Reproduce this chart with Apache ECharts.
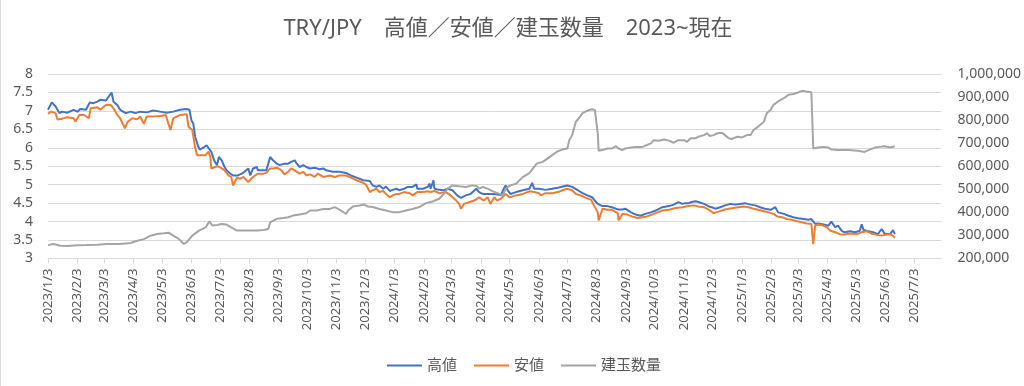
<!DOCTYPE html>
<html><head><meta charset="utf-8">
<script src="https://cdn.jsdelivr.net/npm/echarts@6/dist/echarts.min.js"></script>
<style>html,body{margin:0;padding:0;background:#fff}#c{width:1024px;height:386px}</style>
</head><body><div id="c"></div>
<script>
const titleText = 'TRY/JPY\u3000高値／安値／建玉数量\u30002023~現在';
const seriesNames = ['高値', '安値', '建玉数量'];
const axisStart = '2023/1/3';
const axisEnd = '2025/8/1';
const leftTicks = {min: 3, max: 8, interval: 0.5};
const rightTicks = {min: 200000, max: 1000000, interval: 100000};

const highDates = ['2023/1/3','2023/1/7','2023/1/11','2023/1/15','2023/1/18','2023/1/23','2023/1/30','2023/2/3','2023/2/6','2023/2/12','2023/2/16','2023/2/20','2023/2/24','2023/2/27','2023/3/5','2023/3/8','2023/3/11','2023/3/13','2023/3/17','2023/3/20','2023/3/26','2023/3/31','2023/4/5','2023/4/10','2023/4/17','2023/4/24','2023/5/1','2023/5/8','2023/5/15','2023/5/22','2023/5/29','2023/6/1','2023/6/3','2023/6/5','2023/6/7','2023/6/10','2023/6/12','2023/6/16','2023/6/19','2023/6/21','2023/6/24','2023/6/27','2023/6/30','2023/7/2','2023/7/5','2023/7/7','2023/7/10','2023/7/14','2023/7/17','2023/7/22','2023/7/26','2023/7/29','2023/8/2','2023/8/4','2023/8/7','2023/8/11','2023/8/12','2023/8/18','2023/8/21','2023/8/25','2023/8/28','2023/9/1','2023/9/4','2023/9/9','2023/9/13','2023/9/16','2023/9/20','2023/9/22','2023/9/25','2023/9/29','2023/10/2','2023/10/6','2023/10/11','2023/10/16','2023/10/20','2023/10/23','2023/10/30','2023/11/6','2023/11/13','2023/11/18','2023/11/24','2023/12/1','2023/12/8','2023/12/11','2023/12/15','2023/12/18','2023/12/22','2023/12/25','2023/12/29','2024/1/1','2024/1/5','2024/1/8','2024/1/13','2024/1/17','2024/1/22','2024/1/26','2024/1/27','2024/2/2','2024/2/7','2024/2/9','2024/2/10','2024/2/13','2024/2/14','2024/2/19','2024/2/24','2024/2/28','2024/3/4','2024/3/9','2024/3/13','2024/3/18','2024/3/23','2024/3/29','2024/4/1','2024/4/5','2024/4/10','2024/4/13','2024/4/19','2024/4/24','2024/4/27','2024/4/29','2024/5/1','2024/5/4','2024/5/10','2024/5/17','2024/5/24','2024/5/27','2024/5/29','2024/6/3','2024/6/10','2024/6/17','2024/6/23','2024/6/28','2024/7/3','2024/7/8','2024/7/14','2024/7/19','2024/7/24','2024/7/29','2024/8/4','2024/8/9','2024/8/14','2024/8/19','2024/8/25','2024/8/30','2024/9/2','2024/9/8','2024/9/13','2024/9/18','2024/9/23','2024/9/29','2024/10/4','2024/10/11','2024/10/18','2024/10/23','2024/10/28','2024/11/1','2024/11/4','2024/11/8','2024/11/11','2024/11/15','2024/11/18','2024/11/24','2024/11/29','2024/12/2','2024/12/6','2024/12/11','2024/12/16','2024/12/22','2024/12/27','2025/1/1','2025/1/6','2025/1/12','2025/1/17','2025/1/22','2025/1/27','2025/2/2','2025/2/7','2025/2/10','2025/2/16','2025/2/21','2025/2/26','2025/3/3','2025/3/9','2025/3/14','2025/3/17','2025/3/21','2025/3/24','2025/3/30','2025/4/4','2025/4/7','2025/4/11','2025/4/14','2025/4/18','2025/4/21','2025/4/27','2025/5/2','2025/5/7','2025/5/9','2025/5/11','2025/5/16','2025/5/21','2025/5/26','2025/5/30','2025/6/2','2025/6/8','2025/6/11','2025/6/13'];
const highValues = [7.03,7.23,7.12,6.94,6.98,6.95,7.03,6.98,7.05,7.03,7.23,7.21,7.25,7.30,7.28,7.39,7.50,7.25,7.16,7.03,6.94,6.98,6.94,6.98,6.96,7.01,6.98,6.95,6.98,7.03,7.05,7.03,6.75,6.66,6.30,6.05,5.95,6.01,6.07,6.10,5.89,5.66,5.53,5.75,5.66,5.53,5.39,5.30,5.25,5.25,5.30,5.35,5.44,5.25,5.44,5.48,5.39,5.39,5.39,5.75,5.66,5.57,5.53,5.57,5.57,5.62,5.66,5.57,5.48,5.53,5.48,5.44,5.46,5.42,5.44,5.39,5.35,5.35,5.32,5.25,5.19,5.12,5.10,4.98,4.94,4.98,4.89,4.95,4.83,4.86,4.89,4.85,4.89,4.94,4.94,5.01,4.89,4.89,4.94,5.03,4.89,5.12,4.89,4.86,4.85,4.89,4.85,4.71,4.64,4.71,4.75,4.89,4.80,4.75,4.75,4.75,4.74,4.71,4.89,4.98,4.85,4.75,4.80,4.85,4.89,5.05,4.89,4.89,4.86,4.89,4.92,4.95,4.98,4.94,4.85,4.77,4.71,4.66,4.48,4.42,4.42,4.39,4.33,4.33,4.35,4.25,4.19,4.16,4.21,4.25,4.30,4.39,4.42,4.46,4.53,4.48,4.50,4.50,4.53,4.55,4.53,4.48,4.41,4.39,4.35,4.39,4.44,4.48,4.46,4.48,4.50,4.46,4.44,4.39,4.35,4.32,4.39,4.25,4.21,4.16,4.12,4.09,4.07,4.05,4.07,3.94,3.95,3.92,3.89,4.00,3.85,3.89,3.75,3.71,3.74,3.71,3.75,3.93,3.77,3.74,3.71,3.66,3.80,3.68,3.66,3.77,3.66];

const lowDates = ['2023/1/3','2023/1/6','2023/1/11','2023/1/13','2023/1/18','2023/1/23','2023/1/30','2023/2/1','2023/2/5','2023/2/10','2023/2/15','2023/2/17','2023/2/24','2023/2/27','2023/3/5','2023/3/10','2023/3/13','2023/3/17','2023/3/20','2023/3/25','2023/3/28','2023/4/2','2023/4/7','2023/4/10','2023/4/14','2023/4/17','2023/4/24','2023/5/1','2023/5/7','2023/5/12','2023/5/15','2023/5/22','2023/5/29','2023/5/31','2023/6/4','2023/6/7','2023/6/9','2023/6/12','2023/6/18','2023/6/21','2023/6/23','2023/6/24','2023/6/28','2023/7/1','2023/7/5','2023/7/8','2023/7/12','2023/7/15','2023/7/17','2023/7/21','2023/7/24','2023/7/28','2023/8/2','2023/8/5','2023/8/9','2023/8/12','2023/8/18','2023/8/21','2023/8/25','2023/8/28','2023/9/1','2023/9/6','2023/9/9','2023/9/13','2023/9/16','2023/9/20','2023/9/25','2023/9/29','2023/10/2','2023/10/6','2023/10/11','2023/10/14','2023/10/20','2023/10/27','2023/11/1','2023/11/6','2023/11/13','2023/11/18','2023/11/24','2023/12/1','2023/12/4','2023/12/8','2023/12/11','2023/12/15','2023/12/18','2023/12/22','2023/12/25','2023/12/29','2024/1/1','2024/1/5','2024/1/8','2024/1/13','2024/1/19','2024/1/22','2024/1/27','2024/2/2','2024/2/7','2024/2/10','2024/2/14','2024/2/19','2024/2/26','2024/3/2','2024/3/8','2024/3/11','2024/3/13','2024/3/16','2024/3/22','2024/3/27','2024/4/1','2024/4/6','2024/4/10','2024/4/13','2024/4/17','2024/4/20','2024/4/24','2024/4/29','2024/5/3','2024/5/10','2024/5/17','2024/5/24','2024/5/29','2024/6/3','2024/6/5','2024/6/10','2024/6/17','2024/6/23','2024/6/28','2024/7/3','2024/7/8','2024/7/12','2024/7/17','2024/7/22','2024/7/28','2024/7/31','2024/8/4','2024/8/5','2024/8/9','2024/8/14','2024/8/19','2024/8/25','2024/8/26','2024/8/30','2024/9/4','2024/9/9','2024/9/15','2024/9/20','2024/9/25','2024/9/30','2024/10/6','2024/10/11','2024/10/18','2024/10/25','2024/11/1','2024/11/8','2024/11/13','2024/11/18','2024/11/24','2024/11/29','2024/12/4','2024/12/9','2024/12/15','2024/12/20','2024/12/25','2024/12/30','2025/1/5','2025/1/10','2025/1/15','2025/1/20','2025/1/26','2025/1/31','2025/2/5','2025/2/9','2025/2/14','2025/2/19','2025/2/24','2025/3/2','2025/3/7','2025/3/12','2025/3/17','2025/3/19','2025/3/21','2025/3/24','2025/3/30','2025/4/2','2025/4/6','2025/4/11','2025/4/16','2025/4/21','2025/4/27','2025/5/4','2025/5/9','2025/5/14','2025/5/19','2025/5/25','2025/5/30','2025/6/4','2025/6/9','2025/6/13'];
const lowValues = [6.92,6.98,6.94,6.77,6.79,6.83,6.80,6.71,6.89,6.89,6.80,7.07,7.10,7.03,7.16,7.16,7.07,6.89,6.80,6.53,6.71,6.80,6.77,6.85,6.65,6.85,6.85,6.86,6.89,6.48,6.80,6.89,6.91,6.57,6.48,6.00,5.80,5.80,5.80,5.90,5.75,5.44,5.48,5.50,5.44,5.39,5.25,5.21,4.98,5.19,5.16,5.21,5.07,5.16,5.25,5.30,5.30,5.32,5.44,5.44,5.46,5.39,5.28,5.35,5.44,5.39,5.30,5.35,5.25,5.28,5.21,5.30,5.21,5.25,5.21,5.25,5.25,5.19,5.12,5.05,5.00,4.80,4.85,4.89,4.80,4.83,4.75,4.66,4.71,4.75,4.75,4.80,4.77,4.71,4.80,4.80,4.82,4.80,4.83,4.77,4.80,4.71,4.57,4.48,4.35,4.48,4.53,4.57,4.66,4.57,4.66,4.48,4.66,4.57,4.62,4.75,4.66,4.71,4.75,4.82,4.80,4.77,4.71,4.77,4.77,4.80,4.85,4.89,4.85,4.75,4.71,4.65,4.59,4.44,4.25,4.03,4.35,4.32,4.32,4.23,4.03,4.21,4.19,4.14,4.10,4.12,4.14,4.19,4.25,4.30,4.32,4.37,4.39,4.42,4.44,4.41,4.39,4.32,4.23,4.27,4.32,4.35,4.37,4.39,4.41,4.39,4.35,4.32,4.28,4.25,4.21,4.14,4.12,4.07,4.05,4.01,3.98,3.95,3.94,3.39,3.89,3.92,3.89,3.85,3.75,3.71,3.66,3.65,3.68,3.66,3.71,3.74,3.68,3.64,3.62,3.65,3.65,3.57];

const oiDates = ['2023/1/3','2023/1/9','2023/1/16','2023/1/23','2023/2/3','2023/2/13','2023/2/24','2023/3/6','2023/3/20','2023/3/31','2023/4/7','2023/4/14','2023/4/21','2023/4/28','2023/5/5','2023/5/10','2023/5/15','2023/5/21','2023/5/26','2023/5/29','2023/6/4','2023/6/11','2023/6/18','2023/6/22','2023/6/25','2023/6/30','2023/7/5','2023/7/10','2023/7/15','2023/7/21','2023/7/28','2023/8/4','2023/8/11','2023/8/18','2023/8/23','2023/8/25','2023/9/1','2023/9/8','2023/9/13','2023/9/18','2023/9/25','2023/10/2','2023/10/6','2023/10/13','2023/10/20','2023/10/27','2023/11/1','2023/11/6','2023/11/13','2023/11/15','2023/11/20','2023/11/27','2023/12/2','2023/12/6','2023/12/11','2023/12/18','2023/12/25','2024/1/1','2024/1/8','2024/1/15','2024/1/22','2024/1/29','2024/2/5','2024/2/12','2024/2/19','2024/2/24','2024/2/28','2024/3/4','2024/3/11','2024/3/18','2024/3/25','2024/3/30','2024/4/1','2024/4/5','2024/4/10','2024/4/15','2024/4/22','2024/4/26','2024/4/29','2024/5/4','2024/5/10','2024/5/17','2024/5/24','2024/5/29','2024/6/1','2024/6/7','2024/6/12','2024/6/17','2024/6/22','2024/6/28','2024/7/3','2024/7/5','2024/7/8','2024/7/12','2024/7/15','2024/7/19','2024/7/22','2024/7/26','2024/7/29','2024/8/1','2024/8/4','2024/8/5','2024/8/9','2024/8/14','2024/8/19','2024/8/23','2024/8/26','2024/8/30','2024/9/2','2024/9/8','2024/9/13','2024/9/20','2024/9/25','2024/9/29','2024/10/2','2024/10/7','2024/10/13','2024/10/18','2024/10/23','2024/10/28','2024/11/3','2024/11/6','2024/11/10','2024/11/15','2024/11/18','2024/11/24','2024/11/27','2024/11/30','2024/12/4','2024/12/8','2024/12/13','2024/12/16','2024/12/20','2024/12/23','2024/12/29','2025/1/3','2025/1/8','2025/1/12','2025/1/15','2025/1/20','2025/1/26','2025/1/29','2025/2/2','2025/2/5','2025/2/10','2025/2/16','2025/2/21','2025/2/26','2025/3/3','2025/3/7','2025/3/12','2025/3/17','2025/3/19','2025/3/24','2025/3/30','2025/4/4','2025/4/7','2025/4/14','2025/4/25','2025/5/5','2025/5/12','2025/5/18','2025/5/23','2025/5/28','2025/6/2','2025/6/8','2025/6/13'];
const oiValues = [258000,263000,255000,254000,257000,258000,260000,263000,263000,267000,277000,284000,299000,306000,309000,312000,299000,284000,263000,270000,299000,321000,335000,361000,343000,345000,350000,347000,335000,321000,321000,321000,321000,324000,328000,357000,372000,376000,379000,386000,391000,396000,408000,408000,415000,415000,423000,412000,393000,408000,425000,430000,434000,425000,423000,415000,408000,401000,401000,408000,415000,423000,440000,447000,459000,481000,503000,517000,513000,510000,517000,513000,503000,510000,503000,492000,481000,473000,503000,517000,524000,553000,570000,597000,612000,619000,633000,648000,663000,673000,677000,713000,735000,793000,808000,830000,837000,844000,847000,844000,743000,667000,670000,677000,677000,687000,677000,670000,677000,681000,684000,684000,692000,699000,713000,711000,716000,711000,702000,713000,713000,706000,721000,721000,728000,735000,743000,731000,735000,743000,745000,735000,721000,718000,728000,725000,735000,735000,757000,772000,793000,830000,844000,866000,881000,895000,910000,913000,920000,927000,924000,921000,677000,681000,684000,681000,673000,670000,670000,667000,662000,673000,681000,684000,687000,681000,687000];

// calendar categories (one per day) for the date axis
function parseD(s){const p=s.split('/').map(Number);return Date.UTC(p[0],p[1]-1,p[2]);}
const categories = [];
for (let t = parseD(axisStart); t <= parseD(axisEnd); t += 86400000) {
  const d = new Date(t);
  categories.push(d.getUTCFullYear() + '/' + (d.getUTCMonth()+1) + '/' + d.getUTCDate());
}
const catIndex = new Map(categories.map((c,i)=>[c,i]));
const pairs = (dates, vals) => dates.map((d,i)=>[catIndex.get(d), vals[i]]);
const isTickDay = (idx, val) => String(val).split('/')[2] === '3';

const FONT = "'Noto Sans', 'Noto Sans CJK JP', sans-serif";
const TXT = '#595959';
const colors = ['#4472C4', '#ED7D31', '#A5A5A5'];
const chart = echarts.init(document.getElementById('c'), null, {renderer: 'canvas'});
chart.setOption({
  animation: false,
  backgroundColor: '#fff',
  title: {text: titleText, left: 503, top: 13, textAlign: 'center',
    textStyle: {fontFamily: FONT, fontSize: 22, fontWeight: 'normal', color: TXT}},
  legend: {data: seriesNames, left: 382, top: 353, icon: 'rect', itemWidth: 35, itemHeight: 2, itemGap: 17,
    textStyle: {fontFamily: FONT, fontSize: 15, color: TXT}},
  grid: {left: 48, right: 81, top: 74, bottom: 127.5, containLabel: false},
  xAxis: {type: 'category', data: categories, boundaryGap: false,
    axisLine: {lineStyle: {color: '#d9d9d9'}},
    axisTick: {interval: isTickDay, length: 5, lineStyle: {color: '#d9d9d9'}},
    axisLabel: {interval: isTickDay, rotate: 90, margin: 10, fontFamily: FONT, fontSize: 13, color: TXT},
    splitLine: {show: false}},
  yAxis: [
    {type: 'value', min: leftTicks.min, max: leftTicks.max, interval: leftTicks.interval,
      axisLine: {show: false}, axisTick: {show: false},
      axisLabel: {margin: 15, fontFamily: FONT, fontSize: 14, color: TXT},
      splitLine: {lineStyle: {color: '#d9d9d9', width: 1}}},
    {type: 'value', min: rightTicks.min, max: rightTicks.max, interval: rightTicks.interval,
      axisLine: {show: false}, axisTick: {show: false},
      axisLabel: {margin: 16, fontFamily: FONT, fontSize: 14, color: TXT,
        formatter: v => v.toLocaleString('en-US')},
      splitLine: {show: false}}
  ],
  graphic: [{type: 'line', shape: {x1: 0.5, y1: 0, x2: 0.5, y2: 386}, style: {stroke: '#d9d9d9', lineWidth: 1}}],
  series: [
    {name: seriesNames[0], type: 'line', yAxisIndex: 0, symbol: 'none', data: pairs(highDates, highValues),
      lineStyle: {color: colors[0], width: 2}, itemStyle: {color: colors[0]}},
    {name: seriesNames[1], type: 'line', yAxisIndex: 0, symbol: 'none', data: pairs(lowDates, lowValues),
      lineStyle: {color: colors[1], width: 2}, itemStyle: {color: colors[1]}},
    {name: seriesNames[2], type: 'line', yAxisIndex: 1, symbol: 'none', data: pairs(oiDates, oiValues),
      lineStyle: {color: colors[2], width: 2}, itemStyle: {color: colors[2]}}
  ]
});
</script></body></html>
